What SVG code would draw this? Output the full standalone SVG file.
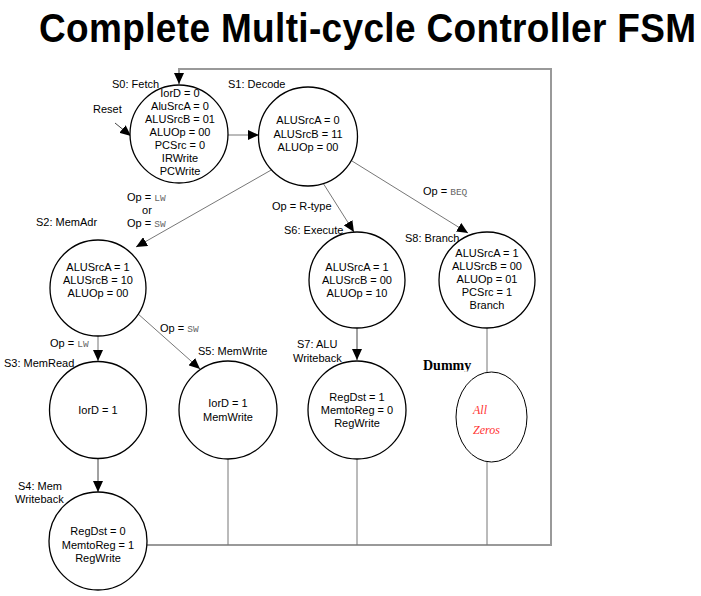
<svg xmlns="http://www.w3.org/2000/svg" width="701" height="596" viewBox="0 0 701 596">
<style>
.st{fill:#fff;stroke:#000;stroke-width:1.3}
.t{font-family:"Liberation Sans",Arial,sans-serif;font-size:11px;fill:#000}
.c{text-anchor:middle}
.m{font-family:"Liberation Mono","Courier New",monospace;font-size:9.5px;fill:#666}
.ln{fill:none;stroke:#777;stroke-width:1}
.dk{fill:none;stroke:#444;stroke-width:1}
.rt{fill:none;stroke:#999;stroke-width:2}
</style>
<defs>
<marker id="ah" markerUnits="userSpaceOnUse" markerWidth="12" markerHeight="10" refX="11" refY="5" orient="auto">
<path d="M0,0 L11,5 L0,10 z" fill="#000"/>
</marker>
<clipPath id="dclip"><rect x="400" y="350" width="100" height="21.5"/></clipPath>
</defs>
<rect width="701" height="596" fill="#fff"/>
<text transform="translate(39,42) scale(1,1.1)" x="0" y="0" font-family="'Liberation Sans',Arial,sans-serif" font-weight="bold" font-size="37" letter-spacing="0.35">Complete Multi-cycle Controller FSM</text>

<g id="connectors">
<path class="rt" d="M146,545 H551 V69 H179 V84" marker-end="url(#ah)"/>
<path class="dk" d="M115,123 L131,136" marker-end="url(#ah)"/>
<path class="ln" d="M228,135 H259" marker-end="url(#ah)"/>
<path class="ln" d="M273,169 L136,247" marker-end="url(#ah)"/>
<path class="ln" d="M323,183 L354,232" marker-end="url(#ah)"/>
<path class="ln" d="M352,161 L468,233" marker-end="url(#ah)"/>
<path class="ln" d="M98,335 V361" marker-end="url(#ah)"/>
<path class="ln" d="M137,313 L200,369" marker-end="url(#ah)"/>
<path class="dk" d="M357,328 V360" marker-end="url(#ah)"/>
<path class="dk" d="M98,459 V492" marker-end="url(#ah)"/>
<path class="ln" d="M487,328 V372"/>
<path class="ln" d="M228,459 V545"/>
<path class="ln" d="M357,459 V545"/>
<path class="ln" d="M487,462 V545"/>
<text class="t" x="93" y="113">Reset</text>
<text class="t" x="127" y="201">Op = <tspan class="m">LW</tspan></text>
<text class="t c" x="147" y="214">or</text>
<text class="t" x="127" y="227">Op = <tspan class="m">SW</tspan></text>
<text class="t" x="272" y="210">Op = R-type</text>
<text class="t" x="423" y="195">Op = <tspan class="m">BEQ</tspan></text>
<text class="t" x="50" y="347">Op = <tspan class="m">LW</tspan></text>
<text class="t" x="160" y="332">Op = <tspan class="m">SW</tspan></text>
</g>

<g id="S0">
<circle class="st" cx="179" cy="134" r="49"/>
<text class="t" x="112" y="88">S0: Fetch</text>
<text class="t c" x="180" y="97">IorD = 0</text>
<text class="t c" x="180" y="110">AluSrcA = 0</text>
<text class="t c" x="180" y="123">ALUSrcB = 01</text>
<text class="t c" x="180" y="136">ALUOp = 00</text>
<text class="t c" x="180" y="149">PCSrc = 0</text>
<text class="t c" x="180" y="162">IRWrite</text>
<text class="t c" x="180" y="175">PCWrite</text>
</g>

<g id="S1">
<circle class="st" cx="308" cy="136.5" r="49.5"/>
<text class="t" x="228" y="88">S1: Decode</text>
<text class="t c" x="308" y="124">ALUSrcA = 0</text>
<text class="t c" x="308" y="138">ALUSrcB = 11</text>
<text class="t c" x="308" y="151">ALUOp = 00</text>
</g>

<g id="S2">
<circle class="st" cx="98" cy="288" r="48"/>
<text class="t" x="36" y="226">S2: MemAdr</text>
<text class="t c" x="98" y="271">ALUSrcA = 1</text>
<text class="t c" x="98" y="284">ALUSrcB = 10</text>
<text class="t c" x="98" y="297">ALUOp = 00</text>
</g>

<g id="S6">
<circle class="st" cx="357" cy="280" r="48"/>
<text class="t" x="284" y="234">S6: Execute</text>
<text class="t c" x="357" y="271">ALUSrcA = 1</text>
<text class="t c" x="357" y="284">ALUSrcB = 00</text>
<text class="t c" x="357" y="297">ALUOp = 10</text>
</g>

<g id="S8">
<circle class="st" cx="487" cy="280" r="48"/>
<text class="t" x="405" y="242">S8: Branch</text>
<text class="t c" x="487" y="257">ALUSrcA = 1</text>
<text class="t c" x="487" y="270">ALUSrcB = 00</text>
<text class="t c" x="487" y="283">ALUOp = 01</text>
<text class="t c" x="487" y="296">PCSrc = 1</text>
<text class="t c" x="487" y="309">Branch</text>
</g>

<g id="S3">
<circle class="st" cx="98" cy="410" r="48.5"/>
<text class="t" x="4" y="367">S3: MemRead</text>
<text class="t c" x="98" y="414">IorD = 1</text>
</g>

<g id="S5">
<circle class="st" cx="228" cy="410" r="49"/>
<text class="t" x="198" y="355">S5: MemWrite</text>
<text class="t c" x="228" y="407">IorD = 1</text>
<text class="t c" x="228" y="421">MemWrite</text>
</g>

<g id="S7">
<circle class="st" cx="357" cy="410" r="49"/>
<text class="t" x="297" y="348">S7: ALU</text>
<text class="t" x="293" y="362">Writeback</text>
<text class="t c" x="357" y="401">RegDst = 1</text>
<text class="t c" x="357" y="414">MemtoReg = 0</text>
<text class="t c" x="357" y="427">RegWrite</text>
</g>

<g id="Dummy">
<ellipse cx="491.5" cy="417" rx="35.5" ry="45" fill="#fff" stroke="#000" stroke-width="1"/>
<text x="423" y="370" clip-path="url(#dclip)" font-family="'Liberation Serif','Times New Roman',serif" font-weight="bold" font-size="14" fill="#000">Dummy</text>
<text x="473" y="414" font-family="'Liberation Serif','Times New Roman',serif" font-style="italic" font-size="12" fill="#ff3333">All</text>
<text x="473" y="434" font-family="'Liberation Serif','Times New Roman',serif" font-style="italic" font-size="12" fill="#ff3333">Zeros</text>
</g>

<g id="S4">
<circle class="st" cx="98" cy="541" r="49"/>
<text class="t" x="18" y="490">S4: Mem</text>
<text class="t" x="15" y="503">Writeback</text>
<text class="t c" x="98" y="535">RegDst = 0</text>
<text class="t c" x="98" y="549">MemtoReg = 1</text>
<text class="t c" x="98" y="562">RegWrite</text>
</g>
</svg>
